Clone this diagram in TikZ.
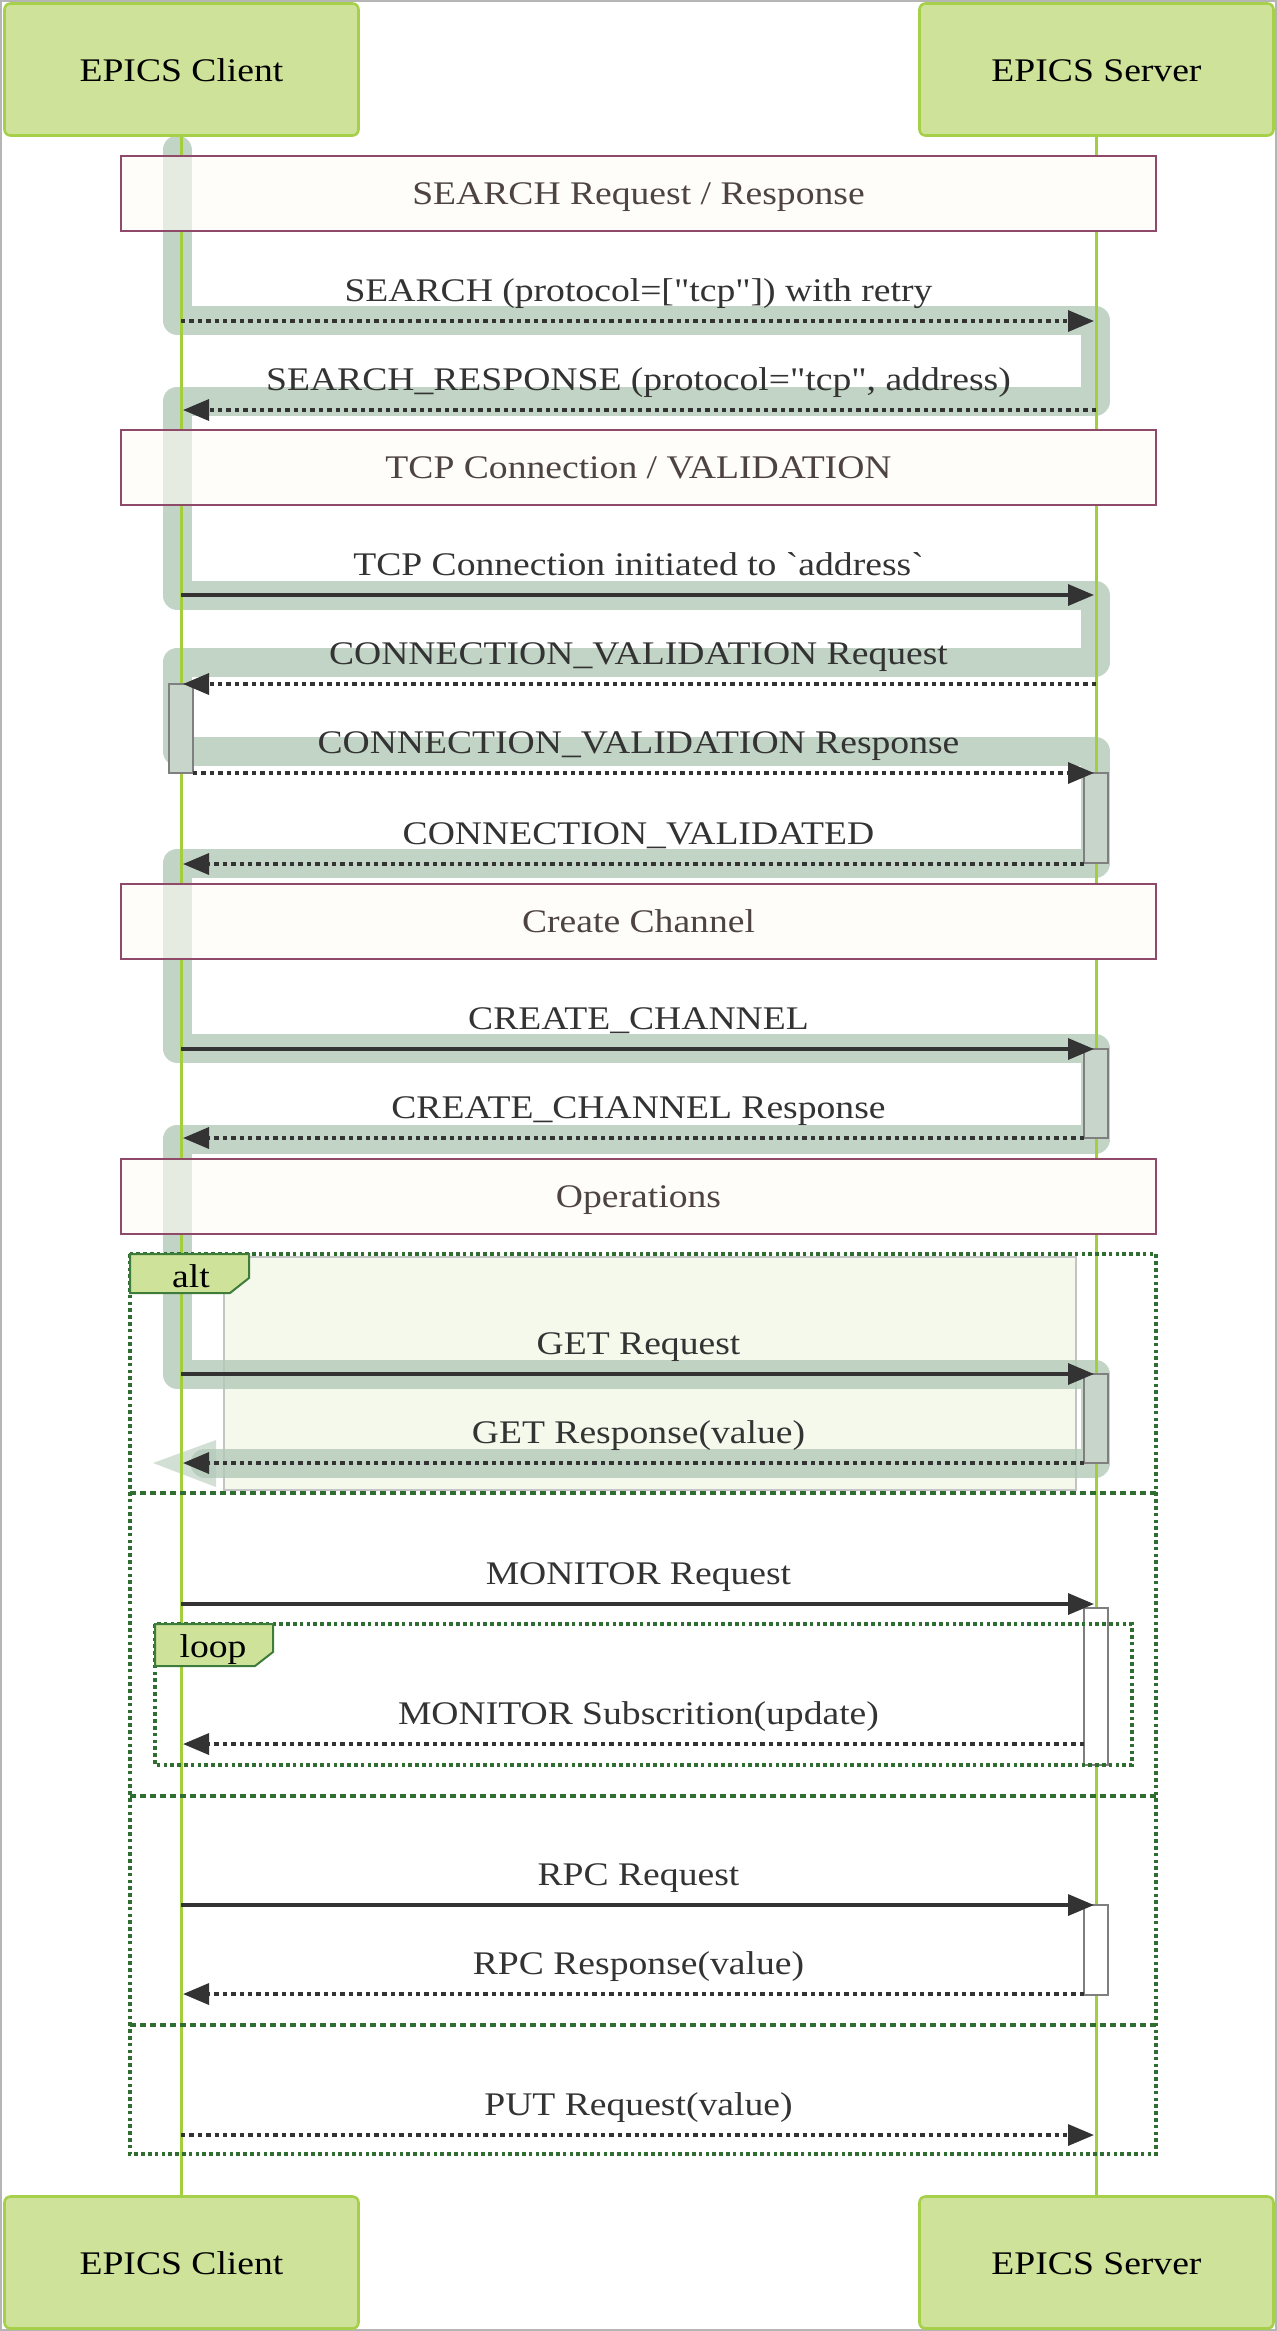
\documentclass[tikz,border=0pt]{standalone}
\usepackage{fontspec}
\setmainfont[Ligatures=TeXOff,FakeStretch=1.14]{Liberation Serif}
\usetikzlibrary{arrows.meta}
\definecolor{boxfill}{HTML}{CFE29A}
\definecolor{boxdraw}{HTML}{A6D04A}
\definecolor{lifec}{HTML}{A3CF3F}
\definecolor{notedraw}{HTML}{8E4A68}
\definecolor{notefill}{HTML}{FFFBF5}
\definecolor{notetext}{HTML}{4D4343}
\definecolor{bandc}{HTML}{B3C9B8}
\definecolor{actfill}{HTML}{C8D5CB}
\definecolor{actdraw}{HTML}{7F7F7F}
\definecolor{arrowc}{HTML}{333333}
\definecolor{framec}{HTML}{2F6E30}
\definecolor{tabdraw}{HTML}{3E7C3A}
\definecolor{hlfill}{HTML}{F4F9EC}
\definecolor{hldraw}{HTML}{C4C4C4}
\definecolor{outerc}{HTML}{B5B5B5}
\newcommand\mylabelfont{\fontsize{16.5pt}{19pt}\selectfont}
\newcommand\mymsg[6]{%
  \coordinate (#1a) at (#3,#5);
  \coordinate (#1b) at (#4,#5);
  \draw[#2] (#1a) -- (#1b);
  \node[lbl] (#1l) at (638.5,#5-20) {#6};}
\tikzset{
  actor/.style={draw=boxdraw, fill=boxfill, line width=1.3pt, rounded corners=3pt,
    minimum width=177pt, minimum height=66pt, text height=11.6pt, text depth=0pt,
    text=black, font=\mylabelfont},
  note/.style={draw=notedraw, fill=notefill, fill opacity=0.6, text opacity=1,
    line width=1pt, minimum width=517.5pt, minimum height=37.5pt,
    text height=11.4pt, text depth=0pt, text=notetext, font=\mylabelfont},
  life/.style={draw=lifec, line width=1.5pt},
  band/.style={draw=bandc, draw opacity=0.8, line width=14.5pt, line join=round, line cap=round},
  msgline/.style={draw=arrowc, line width=1.7pt, -{Triangle[length=13pt,width=10.5pt]}},
  msgdot/.style={msgline, line width=1.7pt, dash pattern=on 2.2pt off 2pt},
  lbl/.style={anchor=base, text=arrowc, inner sep=0pt, font=\mylabelfont},
  actbox/.style={draw=actdraw, fill=actfill, line width=1pt},
  actwhite/.style={draw=actdraw, fill=white, line width=1pt},
  framebox/.style={draw=framec, line width=2pt, dash pattern=on 1.8pt off 1.6pt},
  divider/.style={draw=framec, line width=2pt, dash pattern=on 2.8pt off 2.2pt},
  tab/.style={draw=tabdraw, fill=boxfill, line width=1pt},
  tablbl/.style={anchor=base, text=black, inner sep=0pt, font=\mylabelfont}
}
\begin{document}
\begin{tikzpicture}[x=0.5pt,y=-0.5pt]
\useasboundingbox (0,0) rectangle (1277,2331);
\draw[outerc, line width=1pt] (1,1) rectangle (1276,2330);

% highlighted alt operand
\draw[draw=hldraw, fill=hlfill, line width=0.6pt] (224,1257) rectangle (1076,1490);

% flow highlight band
\draw[band] (177,150) -- (177,320) -- (1095,320) -- (1095,401) -- (177,401)
  -- (177,595) -- (1095,595) -- (1095,662) -- (177,662) -- (177,751)
  -- (1095,751) -- (1095,863) -- (177,863) -- (177,1048) -- (1095,1048)
  -- (1095,1139) -- (177,1139) -- (177,1374) -- (1095,1374) -- (1095,1463)
  -- (205,1463);
\fill[bandc, opacity=0.6] (153,1463) -- (216,1440) -- (216,1487) -- cycle;

% actors
\node[actor] (cTop) at (181.5,69.5) {EPICS Client};
\node[actor] (sTop) at (1096.5,69.5) {EPICS Server};
\node[actor] (cBot) at (181.5,2262.5) {EPICS Client};
\node[actor] (sBot) at (1096.5,2262.5) {EPICS Server};

% note centres
\path (638.5,193.5) coordinate (n1c) (638.5,467.5) coordinate (n2c)
      (638.5,921.5) coordinate (n3c) (638.5,1196) coordinate (n4c);

% lifelines, interrupted by notes
\foreach \top/\bot in {cTop/cBot, sTop/sBot}{
  \draw[life] (\top.south) -- (\top.south |- 0,156);
  \draw[life] (\top.south |- 0,231) -- (\top.south |- 0,430);
  \draw[life] (\top.south |- 0,505) -- (\top.south |- 0,884);
  \draw[life] (\top.south |- 0,959) -- (\top.south |- 0,1158);
  \draw[life] (\top.south |- 0,1234) -- (\bot.north);
}

\node[note] (n1) at (n1c) {SEARCH Request / Response};
\node[note] (n2) at (n2c) {TCP Connection / VALIDATION};
\node[note] (n3) at (n3c) {Create Channel};
\node[note] (n4) at (n4c) {Operations};

% activation boxes
\draw[actbox] (169,684) rectangle (193,773);
\draw[actbox] (1084,773) rectangle (1108,863);
\draw[actbox] (1084,1049) rectangle (1108,1138);
\draw[actbox] (1084,1374) rectangle (1108,1463);
\draw[actwhite] (1084,1608) rectangle (1108,1765);
\draw[actwhite] (1084,1905) rectangle (1108,1995);

% messages
\mymsg{m1}{msgdot}{181}{1094}{321}{SEARCH (protocol=["tcp"]) with retry}
\mymsg{m2}{msgdot}{1096}{183}{410}{SEARCH\_RESPONSE (protocol="tcp", address)}
\mymsg{m3}{msgline}{181}{1094}{595}{TCP Connection initiated to `address`}
\mymsg{m4}{msgdot}{1096}{183}{684}{CONNECTION\_VALIDATION Request}
\mymsg{m5}{msgdot}{193}{1094}{773}{CONNECTION\_VALIDATION Response}
\mymsg{m6}{msgdot}{1084}{183}{864}{CONNECTION\_VALIDATED}
\mymsg{m7}{msgline}{181}{1094}{1049}{CREATE\_CHANNEL}
\mymsg{m8}{msgdot}{1084}{183}{1138}{CREATE\_CHANNEL Response}
\mymsg{m9}{msgline}{181}{1094}{1374}{GET Request}
\mymsg{m10}{msgdot}{1084}{183}{1463}{GET Response(value)}
\mymsg{m11}{msgline}{181}{1094}{1604}{MONITOR Request}
\mymsg{m12}{msgdot}{1084}{183}{1744}{MONITOR Subscrition(update)}
\mymsg{m13}{msgline}{181}{1094}{1905}{RPC Request}
\mymsg{m14}{msgdot}{1084}{183}{1994}{RPC Response(value)}
\mymsg{m15}{msgdot}{181}{1094}{2135}{PUT Request(value)}

% alt frame
\draw[framebox] (130,1254) rectangle (1156,2154);
\draw[divider] (130,1493) -- (1156,1493);
\draw[divider] (130,1796) -- (1156,1796);
\draw[divider] (130,2025) -- (1156,2025);
\filldraw[tab] (130,1254) -- (249,1254) -- (249,1278) -- (230,1293) -- (130,1293) -- cycle;
\node[tablbl] (altl) at (191,1287) {alt};

% loop frame
\draw[framebox] (155,1624) rectangle (1132,1765);
\filldraw[tab] (155,1624) -- (273,1624) -- (273,1652) -- (255,1666) -- (155,1666) -- cycle;
\node[tablbl] (loopl) at (213,1657) {loop};
\end{tikzpicture}
\end{document}
